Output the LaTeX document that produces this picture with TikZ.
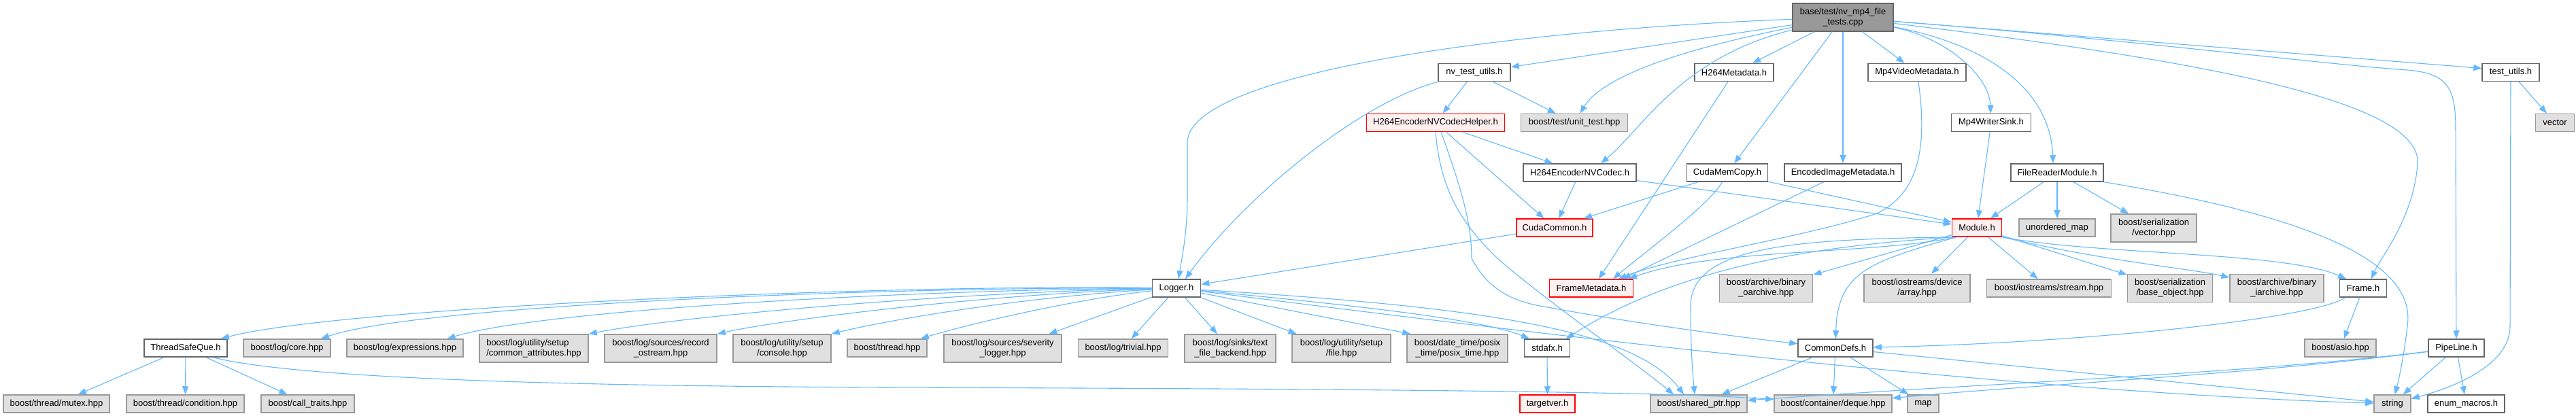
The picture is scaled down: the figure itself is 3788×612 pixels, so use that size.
\documentclass[tikz,border=0pt]{standalone}
\usepackage{fontspec}
\setmainfont{Liberation Sans}
\usetikzlibrary{arrows.meta}
\definecolor{edgec}{HTML}{63B8FF}
\definecolor{rootfill}{HTML}{999999}
\definecolor{boxborder}{HTML}{666666}
\definecolor{extfill}{HTML}{E0E0E0}
\definecolor{extborder}{HTML}{999999}
\definecolor{redfill}{HTML}{FFF0F0}
\definecolor{redborder}{HTML}{FF0000}
\tikzset{
  nb/.style={draw=boxborder, fill=white, line width=1.5pt, inner sep=0pt, minimum height=26pt,
             font=\fontsize{13pt}{15pt}\selectfont, align=center, text=black},
  ext/.style={nb, draw=extborder, fill=extfill},
  redn/.style={nb, draw=redborder, fill=redfill},
  rootn/.style={nb, fill=rootfill},
  two/.style={minimum height=41pt},
  dep/.style={draw=edgec, line width=1.1pt, -{Triangle[length=12pt,width=9pt]}},
}
\begin{document}
\begin{tikzpicture}[x=1pt,y=-1pt]
\useasboundingbox (0,0) rectangle (3788,612);
% ---------- nodes ----------
\node[rootn,two,minimum width=148pt] (root) at (2710,25.5) {base/test/nv\_mp4\_file\\\_tests.cpp};
\node[nb,minimum width=106pt] (nvtu) at (2168,106.5) {nv\_test\_utils.h};
\node[nb,minimum width=116pt] (h264meta) at (2550,106.5) {H264Metadata.h};
\node[nb,minimum width=144pt] (mp4vm) at (2819,106.5) {Mp4VideoMetadata.h};
\node[nb,minimum width=84pt] (testutils) at (3692,106.5) {test\_utils.h};
\node[redn,minimum width=203pt] (helper) at (2111,180.5) {H264EncoderNVCodecHelper.h};
\node[ext,minimum width=157pt] (unittest) at (2315,180.5) {boost/test/unit\_test.hpp};
\node[nb,minimum width=117pt] (mp4ws) at (2928,180.5) {Mp4WriterSink.h};
\node[ext,minimum width=57pt] (vector) at (3757,180.5) {vector};
\node[nb,minimum width=166pt] (nvcodec) at (2323,254) {H264EncoderNVCodec.h};
\node[nb,minimum width=119pt] (cudamem) at (2540,254) {CudaMemCopy.h};
\node[nb,minimum width=172pt] (encimg) at (2710,254) {EncodedImageMetadata.h};
\node[nb,minimum width=136pt] (filereader) at (3025,254) {FileReaderModule.h};
\node[redn,minimum width=112pt] (cudacommon) at (2286,335) {CudaCommon.h};
\node[redn,minimum width=73pt] (module) at (2907,335) {Module.h};
\node[ext,minimum width=112pt] (umap) at (3025,335) {unordered\_map};
\node[ext,two,minimum width=126pt] (servec) at (3167,335.5) {boost/serialization\\/vector.hpp};
\node[nb,minimum width=71pt] (logger) at (1730,424) {Logger.h};
\node[redn,minimum width=123pt] (framemeta) at (2340,424) {FrameMetadata.h};
\node[ext,two,minimum width=137pt] (oarch) at (2597,424) {boost/archive/binary\\\_oarchive.hpp};
\node[ext,two,minimum width=156pt] (devarr) at (2819,424) {boost/iostreams/device\\/array.hpp};
\node[ext,minimum width=183pt] (stream) at (3013,424) {boost/iostreams/stream.hpp};
\node[ext,two,minimum width=125pt] (baseobj) at (3191,424) {boost/serialization\\/base\_object.hpp};
\node[ext,two,minimum width=138pt] (iarch) at (3348,424) {boost/archive/binary\\\_iarchive.hpp};
\node[nb,minimum width=69pt] (frame) at (3475,424) {Frame.h};
\node[nb,minimum width=122pt] (tsq) at (273,512) {ThreadSafeQue.h};
\node[ext,minimum width=128pt] (logcore) at (422,512) {boost/log/core.hpp};
\node[ext,minimum width=171pt] (logexpr) at (595.5,512) {boost/log/expressions.hpp};
\node[ext,two,minimum width=160pt,align=left] (commattr) at (785,512.5) {boost/log/utility/setup\\/common\_attributes.hpp};
\node[ext,two,minimum width=165pt] (recost) at (971.5,512.5) {boost/log/sources/record\\\_ostream.hpp};
\node[ext,two,minimum width=144pt] (console) at (1150,512.5) {boost/log/utility/setup\\/console.hpp};
\node[ext,minimum width=117pt] (thread) at (1304.5,512) {boost/thread.hpp};
\node[ext,two,minimum width=173pt] (sevlog) at (1474.5,512.5) {boost/log/sources/severity\\\_logger.hpp};
\node[ext,minimum width=132pt] (trivial) at (1651.5,512) {boost/log/trivial.hpp};
\node[ext,two,minimum width=134pt] (textfile) at (1809,512.5) {boost/log/sinks/text\\\_file\_backend.hpp};
\node[ext,two,minimum width=145pt] (logfile) at (1972.5,512.5) {boost/log/utility/setup\\/file.hpp};
\node[ext,two,minimum width=148pt] (posix) at (2143,512.5) {boost/date\_time/posix\\\_time/posix\_time.hpp};
\node[nb,minimum width=67pt] (stdafx) at (2275,512) {stdafx.h};
\node[nb,minimum width=110pt] (commondefs) at (2699,512) {CommonDefs.h};
\node[ext,minimum width=105pt] (asio) at (3441.5,512) {boost/asio.hpp};
\node[nb,minimum width=82pt] (pipeline) at (3612,512) {PipeLine.h};
\node[ext,minimum width=156pt] (mutex) at (83,594) {boost/thread/mutex.hpp};
\node[ext,minimum width=173pt] (condition) at (272.5,594) {boost/thread/condition.hpp};
\node[ext,minimum width=137pt] (calltraits) at (452.5,594) {boost/call\_traits.hpp};
\node[redn,minimum width=81pt] (targetver) at (2275.5,594) {targetver.h};
\node[ext,minimum width=142pt] (sharedptr) at (2498,594) {boost/shared\_ptr.hpp};
\node[ext,minimum width=173pt] (deque) at (2695.5,594) {boost/container/deque.hpp};
\node[ext,minimum width=46pt] (map) at (2828,594) {map};
\node[ext,minimum width=54pt] (string) at (3518,594) {string};
\node[nb,minimum width=113pt] (enum) at (3626.5,594) {enum\_macros.h};
% ---------- edges: root ----------
\draw[dep] (root) -- (nvtu);
\draw[dep] (root) .. controls (2460,75) and (2355,115) .. (unittest);
\draw[dep] (root) .. controls (2470,85) and (2415,190) .. ([xshift=31pt]nvcodec.north);
\draw[dep] (root) -- (h264meta);
\draw[dep] (root) -- (cudamem);
\draw[dep] (root) -- (encimg);
\draw[dep] (root) -- (mp4vm);
\draw[dep] (root) .. controls (2860,55) and (2925,110) .. (mp4ws);
\draw[dep] (root) .. controls (2920,65) and (3015,130) .. ([xshift=-6pt]filereader.north);
\draw[dep] (root) -- ([yshift=6pt]testutils.west);
\draw[dep] (root) .. controls (3150,60) and (3420,95) .. (3540,103) .. controls (3600,108) and (3611,130) .. (3611,190) -- (pipeline);
\draw[dep] (root) .. controls (3250,90) and (3560,150) .. (3555,240) .. controls (3550,320) and (3500,380) .. ([xshift=12pt]frame.north);
\draw[dep] (root) .. controls (2200,45) and (1746,110) .. (1746,210) -- (1746,290) .. controls (1746,340) and (1738,380) .. ([xshift=3pt]logger.north);
% ---------- nv_test_utils / helper ----------
\draw[dep] (nvtu) .. controls (2000,150) and (1830,290) .. ([xshift=13pt]logger.north);
\draw[dep] (nvtu) -- (helper);
\draw[dep] (nvtu) -- (unittest);
\draw[dep] (helper) -- (nvcodec);
\draw[dep] (helper) -- (cudacommon);
\draw[dep] ([xshift=8pt]helper.south) .. controls (2150,280) and (2164,330) .. (2164,380) .. controls (2190,430) and (2230,445) .. (2276,452) .. controls (2400,475) and (2550,495) .. (commondefs);
\draw[dep] (helper.south) .. controls (2118,280) and (2150,330) .. (2202,380) .. controls (2270,440) and (2400,530) .. ([xshift=-37pt]sharedptr.north);
% ---------- row 3 ----------
\draw[dep] (nvcodec) -- (cudacommon);
\draw[dep] (nvcodec) -- (module);
\draw[dep] (cudamem) -- (cudacommon);
\draw[dep] (cudamem) .. controls (2515,300) and (2420,370) .. ([xshift=32pt]framemeta.north);
\draw[dep] (cudamem) -- (module);
\draw[dep] (encimg) -- ([xshift=46pt]framemeta.north);
\draw[dep] (h264meta) -- ([xshift=11pt]framemeta.north);
\draw[dep] (mp4vm) .. controls (2835,220) and (2820,285) .. (2760,314) .. controls (2650,350) and (2460,378) .. ([xshift=40pt]framemeta.north);
\draw[dep] (mp4ws) -- (module);
\draw[dep] (filereader) -- (module);
\draw[dep] (filereader) -- (umap);
\draw[dep] (filereader) -- (servec);
\draw[dep] (filereader.south east) .. controls (3380,315) and (3555,380) .. (3540,480) .. controls (3534,530) and (3527,560) .. (string);
\draw[dep] (cudacommon) -- (logger);
% ---------- Module ----------
\draw[dep] ([xshift=-30pt]module.south) .. controls (2750,375) and (2520,365) .. ([xshift=55pt]framemeta.north);
\draw[dep] (module) -- (oarch);
\draw[dep] (module) -- (devarr);
\draw[dep] (module) -- (stream);
\draw[dep] (module) -- (baseobj);
\draw[dep] (module.south east) .. controls (3100,385) and (3220,395) .. (iarch);
\draw[dep] (module.south east) .. controls (3080,375) and (3360,370) .. ([xshift=-25pt]frame.north);
\draw[dep] ([xshift=-30pt]module.south) .. controls (2750,385) and (2702,400) .. (commondefs);
\draw[dep] ([xshift=-33pt]module.south) .. controls (2700,360) and (2480,385) .. ([xshift=28pt]stdafx.north);
\draw[dep] ([xshift=-34pt]module.south) .. controls (2650,352) and (2486,360) .. (2486,450) .. controls (2486,520) and (2490,560) .. ([xshift=-6pt]sharedptr.north);
% ---------- Frame / CommonDefs / others ----------
\draw[dep] (frame) -- (asio);
\draw[dep] ([xshift=-26pt]frame.south) .. controls (3400,470) and (3050,505) .. (commondefs);
\draw[dep] (commondefs) -- (sharedptr);
\draw[dep] (commondefs) -- (deque);
\draw[dep] (commondefs) -- (map);
\draw[dep] (commondefs) -- (string);
\draw[dep] (stdafx) -- (targetver);
\draw[dep] (pipeline) -- (string);
\draw[dep] (pipeline) -- (enum);
\draw[dep] (pipeline) .. controls (3300,550) and (2950,562) .. (sharedptr);
\draw[dep] (pipeline) .. controls (3300,552) and (3000,565) .. (deque);
\draw[dep] (testutils) -- (vector);
\draw[dep] (testutils) -- (3691,480) .. controls (3691,540) and (3600,572) .. (string);
% ---------- ThreadSafeQue ----------
\draw[dep] (tsq) -- (mutex);
\draw[dep] (tsq) -- (condition);
\draw[dep] (tsq) -- (calltraits);
\draw[dep] ([xshift=40pt]tsq.south) .. controls (450,560) and (900,568) .. (1300,570) .. controls (2000,572) and (2450,576) .. (deque);
% ---------- Logger ----------
\draw[dep] (logger) .. controls (1300,418) and (500,452) .. ([xshift=52pt]tsq.north);
\draw[dep] (logger) .. controls (1300,422) and (620,448) .. ([xshift=50pt]logcore.north);
\draw[dep] (logger) .. controls (1350,426) and (800,455) .. ([xshift=62pt]logexpr.north);
\draw[dep] (logger) .. controls (1400,430) and (1000,465) .. (commattr.north east);
\draw[dep] (logger) .. controls (1450,433) and (1150,470) .. (recost.north east);
\draw[dep] (logger) .. controls (1500,437) and (1300,472) .. (console.north east);
\draw[dep] (logger) .. controls (1580,440) and (1420,478) .. ([xshift=-10pt]thread.north east);
\draw[dep] (logger) -- ([xshift=68pt]sevlog.north);
\draw[dep] (logger) -- (trivial);
\draw[dep] (logger) -- (textfile);
\draw[dep] (logger) -- ([xshift=-66pt]logfile.north);
\draw[dep] (logger) -- ([xshift=6pt]posix.north west);
\draw[dep] (logger) .. controls (2000,450) and (2180,470) .. ([xshift=-26pt]stdafx.north);
\draw[dep] (logger) .. controls (2150,450) and (2400,480) .. ([xshift=-22pt]sharedptr.north);
\draw[dep] (logger) .. controls (2100,470) and (2900,575) .. (string);
\end{tikzpicture}
\end{document}
